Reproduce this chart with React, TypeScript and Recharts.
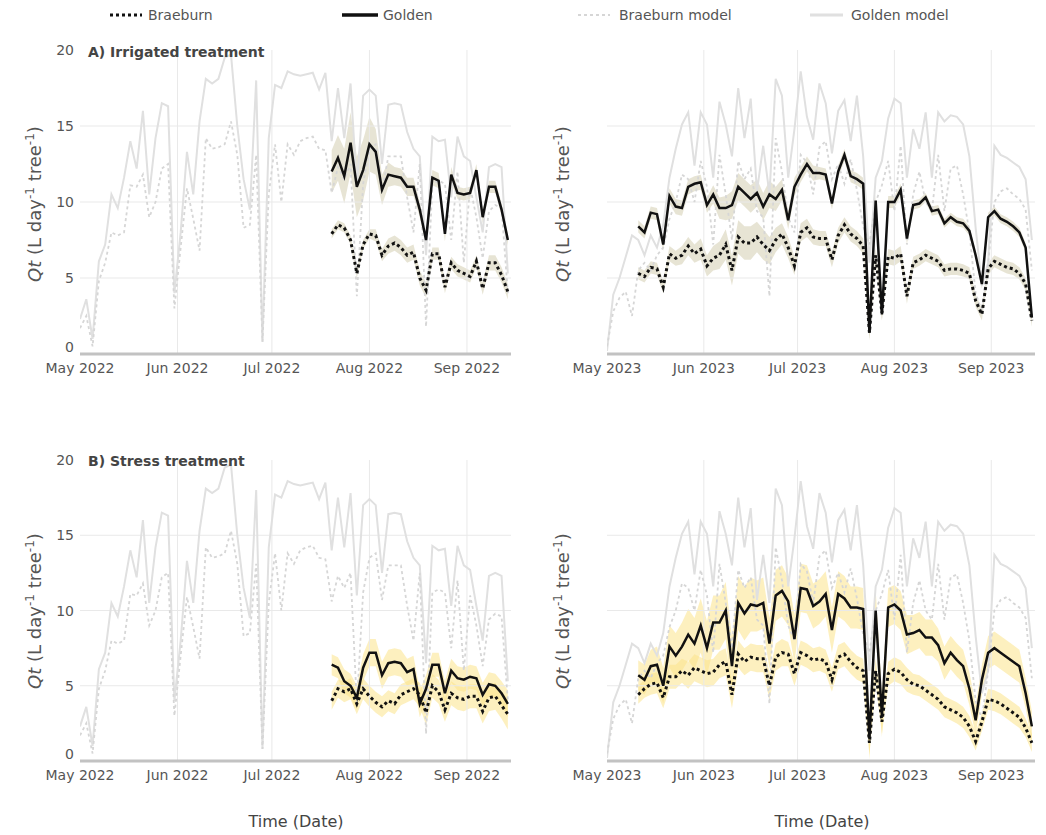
import React from 'react'
import { ComposedChart, Line, Area, XAxis, YAxis, ReferenceLine } from 'recharts'

const FONT = "'DejaVu Sans', sans-serif"

// x = day since 1 May, sampled every 2 days
const modelDays = Array.from({ length: 69 }, (_, i) => i * 2)
const monthTicks = [0, 31, 61, 92, 123]
const labels2022 = ['May 2022', 'Jun 2022', 'Jul 2022', 'Aug 2022', 'Sep 2022']
const labels2023 = ['May 2023', 'Jun 2023', 'Jul 2023', 'Aug 2023', 'Sep 2023']
const yTicks = [0, 5, 10, 15, 20]

// model curves (same for both treatments)
const golden2022Model = [
  2.3, 3.6, 1.0, 6.1, 7.2, 10.5, 9.6, 11.6, 14.0, 12.2,
  16.0, 10.5, 14.2, 16.5, 16.3, 4.0, 8.0, 13.3, 10.5, 15.3,
  18.1, 17.8, 18.1, 19.5, 19.7, 15.0, 11.5, 9.5, 18.0, 0.8,
  14.2, 17.7, 17.5, 18.6, 18.4, 18.3, 18.4, 18.5, 17.4, 18.5,
  14.0, 17.5, 14.2, 17.8, 11.0, 17.0, 17.4, 17.0, 12.5, 16.4,
  16.5, 16.4, 14.6, 13.5, 13.0, 6.5, 14.3, 14.0, 14.1, 10.3,
  14.3, 13.0, 12.7, 10.3, 8.0, 12.3, 12.5, 12.3, 5.3,
]
const braeburn2022Model = [
  1.7, 2.5, 0.5, 4.8, 6.0, 8.0, 7.8, 8.0, 11.1, 11.0,
  11.8, 9.0, 10.0, 12.2, 12.5, 3.0, 7.0, 10.9, 8.9, 6.8,
  14.2, 13.5, 13.6, 13.8, 15.3, 13.1, 8.3, 8.5, 13.1, 0.8,
  10.5, 13.8, 10.0, 13.8, 13.1, 14.0, 14.2, 14.3, 13.5, 13.4,
  10.6, 12.3, 11.5, 12.5, 3.8, 11.2, 13.5, 13.8, 10.7, 13.0,
  13.0, 13.0, 10.3, 8.0, 12.5, 1.8, 11.2, 11.4, 11.2, 7.5,
  12.0, 6.0, 11.0, 9.0, 6.3, 9.4, 9.8, 9.6, 4.0,
]
const golden2023Model = [
  0.2, 3.9, 5.0, 6.4, 7.8, 7.5, 6.5, 7.8, 7.0, 8.5,
  11.6, 13.5, 15.1, 15.9, 12.4, 15.9, 15.1, 11.6, 16.6, 15.1,
  13.0, 17.5, 14.2, 16.8, 10.7, 13.7, 10.5, 18.1, 17.0, 11.6,
  14.8, 18.6, 15.6, 14.1, 17.8, 16.5, 13.2, 16.0, 16.7, 14.0,
  17.0, 13.0, 6.0, 11.6, 12.7, 15.5, 16.8, 16.5, 11.6, 14.8,
  13.5, 15.9, 11.6, 15.9, 15.3, 15.7, 15.6, 15.1, 13.0, 8.3,
  4.5, 6.0, 13.7, 13.1, 12.9, 12.6, 12.3, 11.5, 7.5,
]
const braeburn2023Model = [
  0.5, 2.8, 3.7, 4.1, 2.5, 5.5, 6.0, 5.5, 6.5, 7.0,
  8.9, 10.0, 11.8, 11.5, 10.0, 12.7, 11.0, 7.2, 13.1, 10.5,
  7.5, 12.7, 11.5, 12.2, 9.4, 9.0, 3.8, 14.2, 12.0, 9.0,
  8.0, 13.1, 12.6, 10.5, 13.6, 14.0, 11.5, 12.5, 11.2, 12.8,
  10.8, 8.4, 7.2, 10.0, 11.1, 12.7, 9.4, 13.7, 7.2, 10.5,
  12.0, 10.0, 9.4, 13.1, 9.4, 12.2, 12.4, 10.5, 8.0, 4.0,
  2.8, 6.0, 10.0, 10.7, 10.9, 10.5, 10.2, 9.5, 5.5,
]

// observations 2022 start on day 80
const obsStart2022 = 80
const goldenIrr2022 = [
  12.0, 12.9, 11.7, 13.9, 11.0, 12.1, 13.8, 13.3, 10.8, 11.8,
  11.7, 11.6, 11.0, 11.0, 9.5, 7.5, 11.6, 11.4, 7.9, 11.8,
  10.6, 10.5, 10.6, 12.1, 9.0, 11.0, 11.0, 9.5, 7.5,
]
const goldenIrr2022Sd = [
  1.4, 1.5, 1.8, 2.0, 2.0, 2.0, 1.8, 1.5, 1.0, 0.8,
  0.6, 0.6, 0.6, 0.6, 0.5, 0.5, 0.5, 0.5, 0.5, 0.5,
  0.4, 0.4, 0.4, 0.4, 0.4, 0.4, 0.4, 0.4, 0.4,
]
const braeburnIrr2022 = [
  7.9, 8.5, 8.3, 7.5, 5.3, 7.2, 7.9, 7.8, 6.5, 7.1,
  7.3, 7.0, 6.5, 6.7, 5.0, 4.2, 6.6, 6.6, 4.4, 6.0,
  5.5, 5.3, 5.1, 6.1, 4.3, 6.0, 6.0, 5.2, 4.1,
]
const braeburnIrr2022Sd = [
  0.3, 0.3, 0.3, 0.3, 0.3, 0.3, 0.3, 0.4, 0.4, 0.5,
  0.5, 0.5, 0.5, 0.5, 0.5, 0.5, 0.4, 0.4, 0.4, 0.4,
  0.4, 0.4, 0.4, 0.4, 0.4, 0.5, 0.5, 0.5, 0.5,
]
const goldenStr2022 = [
  6.4, 6.2, 5.3, 5.0, 4.2, 6.2, 7.2, 7.2, 5.7, 6.5,
  6.6, 6.5, 5.9, 6.1, 3.8, 4.8, 6.4, 6.4, 4.5, 6.0,
  5.5, 5.4, 5.6, 5.5, 4.4, 5.1, 5.0, 4.5, 3.8,
]
const goldenStr2022Sd = [
  0.7, 0.7, 0.8, 0.8, 0.8, 0.9, 0.9, 0.9, 0.9, 0.9,
  0.9, 0.9, 0.9, 0.9, 0.9, 0.9, 0.8, 0.8, 0.8, 0.8,
  0.8, 0.8, 0.8, 0.8, 0.8, 0.8, 0.8, 0.8, 0.9,
]
const braeburnStr2022 = [
  4.0, 4.8, 4.6, 4.8, 3.8, 4.8, 4.3, 3.9, 3.6, 4.0,
  3.8, 4.4, 4.6, 4.8, 4.4, 3.2, 5.0, 4.6, 3.4, 4.5,
  4.2, 4.1, 4.3, 4.3, 3.3, 4.2, 4.3, 3.7, 3.1,
]
const braeburnStr2022Sd = [
  0.6, 0.6, 0.7, 0.7, 0.7, 0.7, 0.7, 0.7, 0.7, 0.7,
  0.7, 0.7, 0.7, 0.7, 0.8, 0.8, 0.8, 0.8, 0.8, 0.8,
  0.8, 0.8, 0.8, 0.8, 0.8, 0.9, 0.9, 0.9, 1.0,
]

// observations 2023 start on day 10
const obsStart2023 = 10
const goldenIrr2023 = [
  8.4, 8.0, 9.3, 9.2, 7.2, 10.4, 9.7, 9.6, 11.0, 11.2,
  11.3, 9.8, 10.5, 9.6, 9.6, 9.8, 11.0, 10.6, 10.2, 10.6,
  9.7, 10.5, 10.2, 10.8, 8.8, 11.0, 11.8, 12.5, 11.9, 11.9,
  11.8, 9.9, 12.0, 13.1, 11.7, 11.5, 11.2, 1.4, 10.1, 2.6,
  10.0, 10.0, 10.8, 7.6, 9.8, 9.9, 10.3, 9.4, 9.5, 8.6,
  9.0, 8.7, 8.6, 8.1, 6.5, 4.6, 9.0, 9.4, 8.9, 8.7,
  8.4, 8.0, 7.0, 2.4,
]
const goldenIrr2023Sd = [
  0.4, 0.4, 0.4, 0.4, 0.4, 0.5, 0.5, 0.5, 0.5, 0.5,
  0.5, 0.5, 0.6, 0.7, 0.8, 0.9, 0.9, 0.9, 0.9, 0.9,
  0.9, 0.9, 0.8, 0.7, 0.6, 0.6, 0.5, 0.5, 0.5, 0.4,
  0.4, 0.4, 0.4, 0.4, 0.4, 0.4, 0.4, 0.4, 0.4, 0.4,
  0.4, 0.4, 0.4, 0.4, 0.3, 0.3, 0.3, 0.3, 0.3, 0.3,
  0.3, 0.3, 0.3, 0.3, 0.3, 0.3, 0.3, 0.3, 0.3, 0.3,
  0.3, 0.3, 0.3, 0.3,
]
const braeburnIrr2023 = [
  5.3, 5.1, 5.7, 5.6, 4.4, 6.6, 6.3, 6.5, 7.1, 6.6,
  6.9, 5.8, 6.3, 6.5, 7.2, 5.5, 7.7, 7.3, 7.3, 7.7,
  7.2, 6.8, 7.5, 7.9, 7.0, 5.8, 8.0, 8.3, 7.7, 7.6,
  7.6, 6.2, 7.8, 8.5, 7.9, 7.6, 7.1, 1.4, 6.5, 2.7,
  6.4, 6.3, 6.6, 3.8, 6.0, 6.2, 6.5, 6.3, 6.1, 5.5,
  5.6, 5.6, 5.5, 5.3, 3.5, 2.6, 5.6, 6.1, 5.9, 5.7,
  5.6, 5.3, 4.6, 2.2,
]
const braeburnIrr2023Sd = [
  0.4, 0.4, 0.4, 0.4, 0.4, 0.5, 0.5, 0.6, 0.6, 0.6,
  0.7, 0.7, 0.8, 0.9, 1.0, 1.0, 1.1, 1.1, 1.1, 1.0,
  1.0, 0.9, 0.8, 0.7, 0.7, 0.6, 0.6, 0.6, 0.5, 0.5,
  0.5, 0.5, 0.5, 0.5, 0.5, 0.5, 0.5, 0.5, 0.5, 0.5,
  0.5, 0.5, 0.5, 0.5, 0.4, 0.4, 0.4, 0.4, 0.4, 0.4,
  0.4, 0.4, 0.4, 0.4, 0.4, 0.4, 0.4, 0.4, 0.4, 0.4,
  0.4, 0.4, 0.4, 0.4,
]
const goldenStr2023 = [
  5.7, 5.4, 6.3, 6.4, 5.0, 7.6, 7.0, 7.6, 8.4, 7.8,
  9.0, 7.5, 9.2, 9.2, 10.0, 6.3, 10.5, 9.8, 10.4, 10.3,
  10.5, 7.8, 11.0, 11.3, 10.6, 8.1, 11.5, 11.4, 10.3, 10.6,
  11.1, 8.7, 11.1, 10.8, 10.2, 10.2, 10.1, 1.5, 10.0, 3.0,
  10.2, 10.4, 10.0, 8.4, 8.5, 8.7, 8.2, 8.2, 7.7, 6.5,
  7.2, 6.7, 6.3, 4.8, 2.7, 5.4, 7.2, 7.5, 7.2, 6.9,
  6.6, 6.3, 4.5, 2.3,
]
const goldenStr2023Sd = [
  1.0, 1.0, 1.1, 1.2, 1.2, 1.4, 1.5, 1.6, 1.7, 1.7,
  1.8, 1.8, 1.8, 1.8, 1.9, 1.9, 1.8, 1.8, 1.8, 1.7,
  1.7, 1.7, 1.7, 1.7, 1.6, 1.6, 1.6, 1.6, 1.5, 1.5,
  1.5, 1.5, 1.5, 1.5, 1.4, 1.4, 1.4, 1.4, 1.4, 1.4,
  1.3, 1.3, 1.3, 1.3, 1.2, 1.2, 1.2, 1.2, 1.1, 1.1,
  1.1, 1.1, 1.1, 1.1, 1.0, 1.0, 1.1, 1.1, 1.1, 1.1,
  1.1, 1.1, 1.0, 1.0,
]
const braeburnStr2023 = [
  4.4, 4.8, 5.1, 5.2, 4.2, 5.6, 5.6, 6.0, 5.7, 6.2,
  6.0, 5.8, 5.9, 6.4, 6.6, 4.4, 7.1, 6.6, 6.9, 6.8,
  6.8, 5.0, 6.9, 7.2, 7.1, 5.8, 7.2, 7.0, 6.7, 6.8,
  6.6, 5.4, 6.9, 7.1, 6.6, 6.2, 6.0, 1.2, 6.0, 2.6,
  5.8, 6.1, 5.9, 5.4, 5.1, 5.0, 4.7, 4.4, 4.1, 3.6,
  3.4, 3.2, 2.9, 2.3, 1.3, 2.6, 4.1, 4.0, 3.8, 3.5,
  3.2, 2.9, 2.2, 1.2,
]
const braeburnStr2023Sd = [
  0.6, 0.6, 0.7, 0.7, 0.7, 0.8, 0.8, 0.8, 0.9, 0.9,
  0.9, 0.9, 0.9, 0.9, 0.9, 0.9, 0.9, 0.9, 0.9, 0.9,
  0.9, 0.9, 0.9, 0.9, 0.8, 0.8, 0.8, 0.8, 0.8, 0.8,
  0.8, 0.8, 0.8, 0.8, 0.8, 0.8, 0.8, 0.8, 0.8, 0.8,
  0.8, 0.8, 0.8, 0.8, 0.7, 0.7, 0.7, 0.7, 0.7, 0.7,
  0.7, 0.7, 0.7, 0.7, 0.6, 0.6, 0.7, 0.7, 0.7, 0.7,
  0.7, 0.7, 0.6, 0.6,
]

function buildRows(bm: number[], gm: number[], start: number,
  bo: number[], go: number[], bsd: number[], gsd: number[]) {
  return modelDays.map((d, i) => {
    const row: any = { d, bm: bm[i], gm: gm[i] }
    const j = (d - start) / 2
    if (j >= 0 && j < bo.length) {
      row.bo = bo[j]
      row.go = go[j]
      row.bBand = [Math.max(0, bo[j] - bsd[j]), bo[j] + bsd[j]]
      row.gBand = [Math.max(0, go[j] - gsd[j]), go[j] + gsd[j]]
    }
    return row
  })
}

const rowsIrr2022 = buildRows(braeburn2022Model, golden2022Model, obsStart2022,
  braeburnIrr2022, goldenIrr2022, braeburnIrr2022Sd, goldenIrr2022Sd)
const rowsStr2022 = buildRows(braeburn2022Model, golden2022Model, obsStart2022,
  braeburnStr2022, goldenStr2022, braeburnStr2022Sd, goldenStr2022Sd)
const rowsIrr2023 = buildRows(braeburn2023Model, golden2023Model, obsStart2023,
  braeburnIrr2023, goldenIrr2023, braeburnIrr2023Sd, goldenIrr2023Sd)
const rowsStr2023 = buildRows(braeburn2023Model, golden2023Model, obsStart2023,
  braeburnStr2023, goldenStr2023, braeburnStr2023Sd, goldenStr2023Sd)

const GRID = '#e9e9e9'

// y tick text; the 0 sits a little higher so it clears the date labels
function YTick(props: any) {
  const { x, y, payload } = props
  return (
    <text x={x} y={y} dy={payload.value === 0 ? -2 : 5} textAnchor="end"
      fontFamily={FONT} fontSize={14} fill="#555">
      {payload.value}
    </text>
  )
}

function Panel({ left, top, width, height, margin, rows, labels, showY, band }: any) {
  return (
    <div style={{ position: 'absolute', left, top }}>
      <ComposedChart width={width} height={height} data={rows} margin={margin}>
        <XAxis
          dataKey="d"
          type="number"
          domain={[0, 137]}
          ticks={monthTicks}
          interval={0}
          allowDataOverflow
          tickFormatter={(v: number) => labels[monthTicks.indexOf(v)]}
          tickLine={false}
          tickSize={0}
          tickMargin={9}
          height={30}
          axisLine={{ stroke: '#c2c2c2', strokeWidth: 3 }}
          tick={{ fontSize: 14, fill: '#555', fontFamily: FONT }}
        />
        <YAxis
          type="number"
          domain={[0, 20]}
          ticks={yTicks}
          interval={0}
          allowDataOverflow
          width={40}
          tickLine={false}
          tickSize={0}
          tickMargin={6}
          axisLine={false}
          tick={showY ? <YTick /> : false}
        />
        {[31, 61, 92, 123].map(x => (
          <ReferenceLine key={'v' + x} x={x} stroke={GRID} strokeWidth={1} />
        ))}
        {[5, 10, 15].map(y => (
          <ReferenceLine key={'h' + y} y={y} stroke={GRID} strokeWidth={1} />
        ))}
        <Line type="linear" dataKey="gm" stroke="#e0e0e0" strokeWidth={2} dot={false} isAnimationActive={false} />
        <Line type="linear" dataKey="bm" stroke="#d6d6d6" strokeWidth={1.8} strokeDasharray="3 3" dot={false} isAnimationActive={false} />
        <Area type="linear" dataKey="gBand" stroke="none" fill={band} fillOpacity={0.55} isAnimationActive={false} />
        <Area type="linear" dataKey="bBand" stroke="none" fill={band} fillOpacity={0.55} isAnimationActive={false} />
        <Line type="linear" dataKey="go" stroke="#111" strokeWidth={2.5} dot={false} isAnimationActive={false} />
        <Line type="linear" dataKey="bo" stroke="#111" strokeWidth={3} strokeDasharray="3 3" dot={false} isAnimationActive={false} />
      </ComposedChart>
    </div>
  )
}

function YTitle({ x, y }: { x: number; y: number }) {
  return (
    <text transform={`translate(${x},${y}) rotate(-90)`} textAnchor="middle"
      fontFamily={FONT} fontSize={18} fill="#555">
      <tspan fontStyle="italic">Qt</tspan>
      <tspan> (L day</tspan>
      <tspan fontSize={12} dy={-7}>-1</tspan>
      <tspan dy={7}> tree</tspan>
      <tspan fontSize={12} dy={-7}>-1</tspan>
      <tspan dy={7}>)</tspan>
    </text>
  )
}

export default function App() {
  const irrBand = '#d4cdb0'
  const strBand = '#fbe38a'
  return (
    <div style={{ position: 'absolute', left: 0, top: 0, width: 1046, height: 835, background: '#fff', fontFamily: FONT }}>
      <Panel left={0} top={0} width={530} height={400}
        margin={{ top: 50, right: 19, bottom: 16, left: 40 }}
        rows={rowsIrr2022} labels={labels2022} showY band={irrBand} />
      <Panel left={530} top={0} width={516} height={400}
        margin={{ top: 50, right: 11, bottom: 16, left: 37 }}
        rows={rowsIrr2023} labels={labels2023} showY={false} band={irrBand} />
      <Panel left={0} top={400} width={530} height={420}
        margin={{ top: 60, right: 19, bottom: 29, left: 40 }}
        rows={rowsStr2022} labels={labels2022} showY band={strBand} />
      <Panel left={530} top={400} width={516} height={420}
        margin={{ top: 60, right: 11, bottom: 29, left: 37 }}
        rows={rowsStr2023} labels={labels2023} showY={false} band={strBand} />

      <svg width={1046} height={835} style={{ position: 'absolute', left: 0, top: 0, pointerEvents: 'none' }}>
        {/* legend */}
        <line x1={110} y1={15} x2={142} y2={15} stroke="#111" strokeWidth={3} strokeDasharray="3 3" />
        <text x={148} y={20} fontFamily={FONT} fontSize={14} fill="#555">Braeburn</text>
        <line x1={342} y1={15} x2={378} y2={15} stroke="#111" strokeWidth={3.5} />
        <text x={383} y={20} fontFamily={FONT} fontSize={14} fill="#555">Golden</text>
        <line x1={578} y1={15} x2={610} y2={15} stroke="#d6d6d6" strokeWidth={2} strokeDasharray="3 3" />
        <text x={619} y={20} fontFamily={FONT} fontSize={14} fill="#555">Braeburn model</text>
        <line x1={810} y1={15} x2={843} y2={15} stroke="#e0e0e0" strokeWidth={3} />
        <text x={851} y={20} fontFamily={FONT} fontSize={14} fill="#555">Golden model</text>

        {/* panel titles */}
        <text x={88} y={57} fontFamily={FONT} fontSize={14} fontWeight="bold" fill="#444">A) Irrigated treatment</text>
        <text x={88} y={466} fontFamily={FONT} fontSize={14} fontWeight="bold" fill="#444">B) Stress treatment</text>

        {/* y titles */}
        <YTitle x={41} y={204} />
        <YTitle x={41} y={611} />
        <YTitle x={569} y={204} />
        <YTitle x={569} y={611} />

        {/* x titles */}
        <text x={296} y={827} textAnchor="middle" fontFamily={FONT} fontSize={16} fill="#444">Time (Date)</text>
        <text x={822} y={827} textAnchor="middle" fontFamily={FONT} fontSize={16} fill="#444">Time (Date)</text>
      </svg>
    </div>
  )
}
